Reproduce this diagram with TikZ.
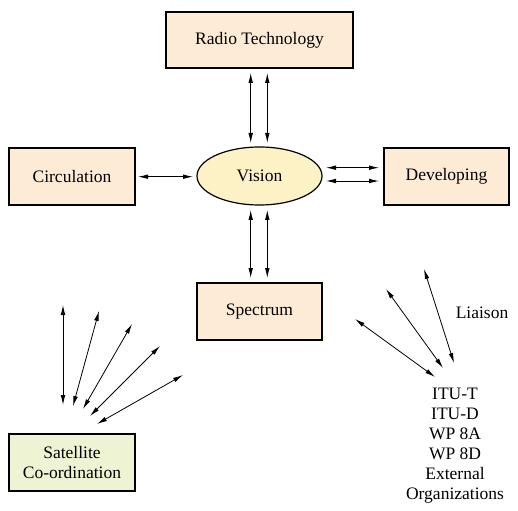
\documentclass[tikz,border=0pt]{standalone}
\usepackage{fontspec}
\setmainfont{Liberation Serif}
\usetikzlibrary{arrows.meta,shapes.geometric}
\definecolor{peach}{HTML}{FDEBD5}
\definecolor{visionfill}{HTML}{FCF2C6}
\definecolor{satfill}{HTML}{EEF3D3}
\newcommand{\txtfont}{\rmfamily\fontsize{17.5}{20}\selectfont}
\tikzset{
  box/.style={draw=black,line width=1.2pt,fill=peach,minimum width=187pt,minimum height=56pt,inner sep=0pt,
    font=\txtfont},
  lbl/.style={inner sep=0pt,font=\txtfont,align=center},
  arr/.style={line width=0.8pt,{Latex[length=10pt,width=4.6pt]}-{Latex[length=10pt,width=4.6pt]}}
}
\begin{document}
\begin{tikzpicture}[x=1pt,y=-1pt]
\useasboundingbox (0,0) rectangle (518,510);
\node[box] (radio) at (259.5,40) {Radio Technology};
\node[box,minimum width=126pt,minimum height=57pt] (circ) at (72,176.5) {Circulation};
\node[box,minimum width=125pt,minimum height=57pt] (dev) at (446.5,176.5) {Developing};
\node[box,minimum width=125pt,minimum height=57pt] (spec) at (259.5,311.5) {Spectrum};
\node[draw=black,line width=1.2pt,fill=visionfill,ellipse,minimum width=125pt,minimum height=58pt,inner sep=0pt,
  font=\txtfont] (vision) at (259.5,176) {Vision};
\node[box,fill=satfill,minimum width=126pt,minimum height=57pt,align=center,
  font=\rmfamily\fontsize{17.5}{19.5}\selectfont] (sat) at (72,462.5) {Satellite\\Co-ordination};
\node[lbl] (liaison) at (482,313) {Liaison};
\node[lbl] (list) at (455,446) {ITU-T\\ITU-D\\WP 8A\\WP 8D\\External\\Organizations};
% radio - vision
\coordinate (ra1) at (250.7,73); \coordinate (va1) at (250.7,143);
\coordinate (ra2) at (267.3,73); \coordinate (va2) at (267.3,143);
\draw[arr] (ra1) -- (va1);
\draw[arr] (ra2) -- (va2);
% vision - spectrum
\coordinate (vb1) at (250.7,210); \coordinate (sb1) at (250.7,278);
\coordinate (vb2) at (267.3,210); \coordinate (sb2) at (267.3,278);
\draw[arr] (vb1) -- (sb1);
\draw[arr] (vb2) -- (sb2);
% circulation - vision
\coordinate (c1) at (138,176.7); \coordinate (vc1) at (193,176.7);
\draw[arr] (c1) -- (vc1);
% vision - developing
\coordinate (vd1) at (326,167.7); \coordinate (d1) at (379,167.7);
\coordinate (vd2) at (326,181); \coordinate (d2) at (379,181);
\draw[arr] (vd1) -- (d1);
\draw[arr] (vd2) -- (d2);
% satellite fan
\coordinate (s1a) at (63,405); \coordinate (s1b) at (63,305);
\coordinate (s2a) at (73,406); \coordinate (s2b) at (99,311);
\coordinate (s3a) at (83,409); \coordinate (s3b) at (132,324);
\coordinate (s4a) at (90,416); \coordinate (s4b) at (160,346);
\coordinate (s5a) at (97,424); \coordinate (s5b) at (183,375);
\foreach \i in {1,...,5} \draw[arr] (s\i a) -- (s\i b);
% liaison fan
\coordinate (l1a) at (355,319); \coordinate (l1b) at (435,377);
\coordinate (l2a) at (386,289); \coordinate (l2b) at (443,368);
\coordinate (l3a) at (424,269); \coordinate (l3b) at (454,363);
\foreach \i in {1,2,3} \draw[arr] (l\i a) -- (l\i b);
\end{tikzpicture}
\end{document}
